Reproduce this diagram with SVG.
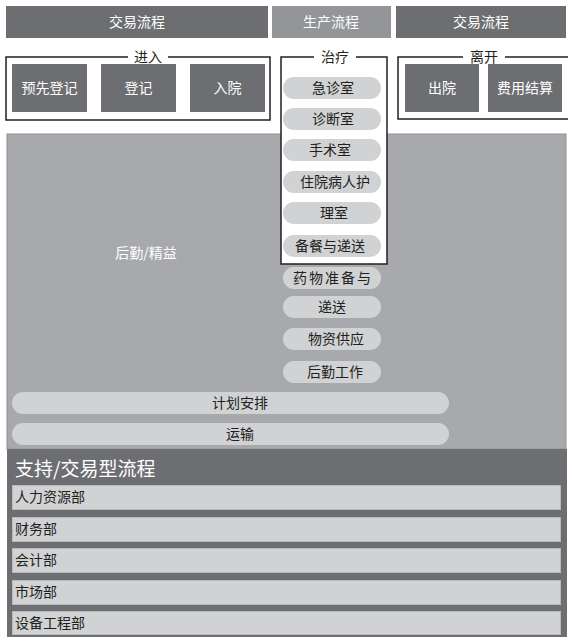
<svg xmlns="http://www.w3.org/2000/svg" width="572" height="642" viewBox="0 0 572 642">
<style>
text{font-family:"Noto Sans CJK SC","Noto Sans",sans-serif}
.dark{fill:#6d6e71}
.mid{fill:#939598}
.wt{fill:#ffffff;font-size:14px;text-anchor:middle}
.frame{fill:none;stroke:#231f20;stroke-width:1.5}
.ttl{fill:#231f20;font-size:14px;text-anchor:middle}
.pill{fill:#d1d2d4}
.pt{fill:#231f20;font-size:14px;text-anchor:middle}
.row{fill:#d1d2d4;stroke:#b8babc;stroke-width:1}
.rt{fill:#231f20;font-size:14px}
</style>
<rect width="572" height="642" fill="#ffffff"/>
<g id="top-left"><rect class="dark" x="6" y="6" width="262" height="32"/><text class="wt" x="137" y="27">交易流程</text></g>
<g id="top-mid"><rect class="mid" x="272" y="6" width="119" height="32"/><text class="wt" x="331" y="27">生产流程</text></g>
<g id="top-right"><rect class="dark" x="396" y="6" width="170" height="32"/><text class="wt" x="481" y="27">交易流程</text></g>

<g id="enter">
<rect class="frame" x="6" y="57" width="264" height="63"/>
<rect x="128" y="48" width="40" height="16" fill="#ffffff"/>
<text class="ttl" x="148" y="62">进入</text>
<g id="n-preregister"><rect class="dark" x="12" y="64" width="75" height="48"/><text class="wt" x="49.5" y="93">预先登记</text></g>
<g id="n-register"><rect class="dark" x="101" y="64" width="75" height="48"/><text class="wt" x="138.5" y="93">登记</text></g>
<g id="n-admit"><rect class="dark" x="190" y="64" width="75" height="48"/><text class="wt" x="227.5" y="93">入院</text></g>
</g>

<g id="leave">
<path class="frame" d="M568,57 H398 V119 H568"/>
<rect x="463" y="48" width="42" height="16" fill="#ffffff"/>
<text class="ttl" x="484" y="62">离开</text>
<g id="n-discharge"><rect class="dark" x="405" y="64" width="74" height="48"/><text class="wt" x="442" y="93">出院</text></g>
<g id="n-billing"><rect class="dark" x="488" y="64" width="74" height="48"/><text class="wt" x="525" y="93">费用结算</text></g>
</g>

<g id="logistics">
<rect x="7" y="134" width="559" height="315" fill="#a7a9ac" stroke="#8e9093" stroke-width="1"/>
<text class="wt" x="146" y="258" font-size="15">后勤/精益</text>
</g>

<g id="treatment">
<rect x="281" y="57" width="106" height="207" fill="#ffffff" stroke="#231f20" stroke-width="1.5"/>
<rect x="314" y="48" width="42" height="16" fill="#ffffff"/>
<text class="ttl" x="335" y="62">治疗</text>
</g>

<g id="pills">
<g id="p1"><rect class="pill" x="283" y="77" width="98" height="22" rx="11"/><text class="pt" x="333" y="93">急诊室</text></g>
<g id="p2"><rect class="pill" x="283" y="108" width="98" height="22" rx="11"/><text class="pt" x="333" y="124">诊断室</text></g>
<g id="p3"><rect class="pill" x="283" y="139" width="98" height="22" rx="11"/><text class="pt" x="330" y="155">手术室</text></g>
<g id="p4"><rect class="pill" x="283" y="171" width="98" height="22" rx="11"/><text class="pt" x="335" y="187">住院病人护</text></g>
<g id="p5"><rect class="pill" x="283" y="202" width="98" height="22" rx="11"/><text class="pt" x="334" y="218">理室</text></g>
<g id="p6"><rect class="pill" x="283" y="235" width="98" height="22" rx="11"/><text class="pt" x="330" y="251">备餐与递送</text></g>
<g id="p7"><rect class="pill" x="283" y="267" width="98" height="22" rx="11"/><text class="pt" x="333" y="283" letter-spacing="2">药物准备与</text></g>
<g id="p8"><rect class="pill" x="283" y="296" width="98" height="22" rx="11"/><text class="pt" x="332" y="312">递送</text></g>
<g id="p9"><rect class="pill" x="283" y="328" width="98" height="22" rx="11"/><text class="pt" x="336" y="344">物资供应</text></g>
<g id="p10"><rect class="pill" x="283" y="361" width="98" height="22" rx="11"/><text class="pt" x="335" y="377">后勤工作</text></g>
<g id="p11"><rect class="pill" x="12" y="392" width="437" height="22" rx="11"/><text class="pt" x="240" y="408">计划安排</text></g>
<g id="p12"><rect class="pill" x="12" y="423" width="437" height="22" rx="11"/><text class="pt" x="240" y="439">运输</text></g>
</g>

<g id="support">
<rect class="dark" x="7" y="449" width="560" height="188"/>
<text x="15" y="476" fill="#ffffff" font-size="19">支持/交易型流程</text>
<g id="r1"><rect class="row" x="12.5" y="485.5" width="548" height="24"/><text class="rt" x="15" y="502">人力资源部</text></g>
<g id="r2"><rect class="row" x="12.5" y="517.5" width="548" height="24"/><text class="rt" x="15" y="534">财务部</text></g>
<g id="r3"><rect class="row" x="12.5" y="548.5" width="548" height="24"/><text class="rt" x="15" y="565">会计部</text></g>
<g id="r4"><rect class="row" x="12.5" y="580.5" width="548" height="24"/><text class="rt" x="15" y="597">市场部</text></g>
<g id="r5"><rect class="row" x="12.5" y="611.5" width="548" height="23"/><text class="rt" x="15" y="628">设备工程部</text></g>
</g>
<g id="connectors"></g>
</svg>
